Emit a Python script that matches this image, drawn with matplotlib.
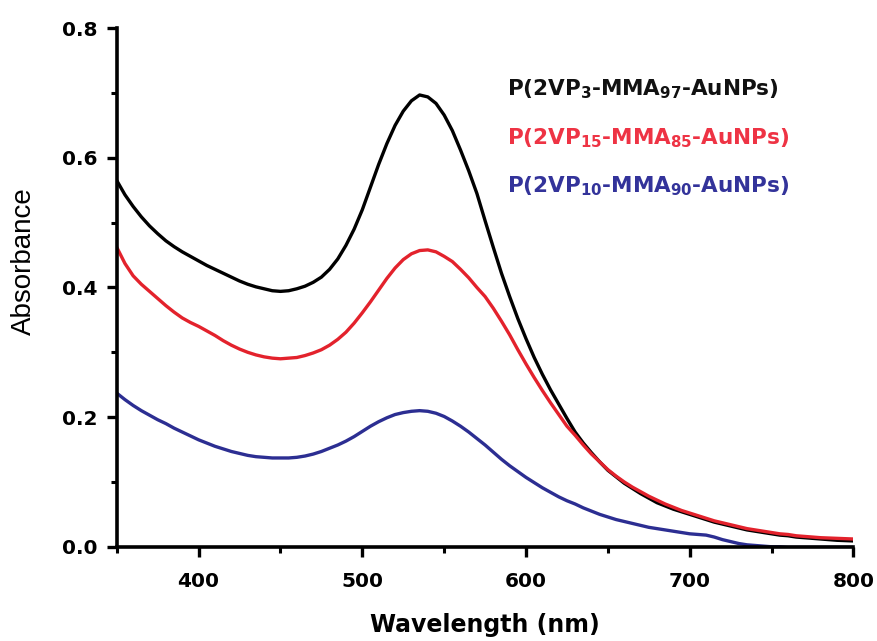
import matplotlib
matplotlib.use("Agg")
import matplotlib.pyplot as plt
from matplotlib.ticker import MultipleLocator, FormatStrFormatter

wavelength = list(range(350, 801, 5))

black_2vp3 = [
    0.565, 0.543, 0.525, 0.509, 0.495, 0.483, 0.472, 0.463, 0.455, 0.448,
    0.441, 0.434, 0.428, 0.422, 0.416, 0.410, 0.405, 0.401, 0.398, 0.395,
    0.394, 0.395, 0.398, 0.402, 0.408, 0.416, 0.428, 0.444, 0.465, 0.490,
    0.520, 0.555, 0.590, 0.622, 0.650, 0.672, 0.688, 0.697, 0.694, 0.684,
    0.666, 0.642, 0.612, 0.580, 0.545, 0.503, 0.462, 0.422, 0.386, 0.352,
    0.321, 0.292, 0.266, 0.242, 0.220, 0.198, 0.177, 0.160, 0.145, 0.131,
    0.118, 0.108, 0.098, 0.090, 0.082, 0.075, 0.068, 0.063, 0.058, 0.054,
    0.050, 0.046, 0.042, 0.038, 0.035, 0.032, 0.029, 0.026, 0.024, 0.022,
    0.020, 0.018, 0.017, 0.015, 0.014, 0.013, 0.012, 0.011, 0.010, 0.0095,
    0.009]

red_2vp15 = [
    0.462, 0.437, 0.418, 0.405, 0.394, 0.383, 0.372, 0.362, 0.353, 0.346,
    0.340, 0.333, 0.326, 0.318, 0.311, 0.305, 0.300, 0.296, 0.293, 0.291,
    0.290, 0.291, 0.292, 0.295, 0.299, 0.304, 0.311, 0.320, 0.331, 0.345,
    0.361, 0.378, 0.396, 0.414, 0.430, 0.443, 0.452, 0.457, 0.458, 0.455,
    0.448, 0.440, 0.428, 0.415, 0.400, 0.386, 0.368, 0.348, 0.327, 0.304,
    0.282, 0.261, 0.241, 0.222, 0.204, 0.186, 0.172, 0.157, 0.143, 0.131,
    0.119, 0.109, 0.100, 0.092, 0.085, 0.078, 0.072, 0.066, 0.061, 0.056,
    0.052, 0.048, 0.044, 0.040, 0.037, 0.034, 0.031, 0.028, 0.026, 0.024,
    0.022, 0.020, 0.019, 0.017, 0.016, 0.015, 0.014, 0.0135, 0.013, 0.0125,
    0.012]

blue_2vp10 = [
    0.237, 0.227, 0.218, 0.210, 0.203, 0.196, 0.190, 0.183, 0.177, 0.171,
    0.165, 0.160, 0.155, 0.151, 0.147, 0.144, 0.141, 0.139, 0.138, 0.137,
    0.137, 0.137, 0.138, 0.140, 0.143, 0.147, 0.152, 0.157, 0.163, 0.170,
    0.178, 0.186, 0.193, 0.199, 0.204, 0.207, 0.209, 0.210, 0.209, 0.206,
    0.201, 0.194, 0.186, 0.177, 0.167, 0.157, 0.146, 0.135, 0.125, 0.116,
    0.107, 0.099, 0.091, 0.084, 0.077, 0.071, 0.066, 0.060, 0.055, 0.050,
    0.046, 0.042, 0.039, 0.036, 0.033, 0.030, 0.028, 0.026, 0.024, 0.022,
    0.020, 0.019, 0.018, 0.015, 0.011, 0.008, 0.005, 0.003, 0.002, 0.001,
    0.000, 0.000, -0.001, -0.001, -0.001, -0.001, -0.001, -0.001, -0.001, -0.001,
    -0.001]

labels = ["P(2VP$_{3}$-MMA$_{97}$-AuNPs)",
          "P(2VP$_{15}$-MMA$_{85}$-AuNPs)",
          "P(2VP$_{10}$-MMA$_{90}$-AuNPs)"]
line_colors = ["#000000", "#e3222c", "#2c2e92"]
text_colors = ["#111111", "#ee3344", "#33339a"]

plt.rcParams["font.family"] = ["Liberation Sans", "DejaVu Sans"]
plt.rcParams["mathtext.fontset"] = "custom"
plt.rcParams["mathtext.rm"] = "DejaVu Sans:bold"
plt.rcParams["mathtext.default"] = "rm"

fig = plt.figure(figsize=(8.78, 6.41), dpi=100)
ax = fig.add_axes([0.133, 0.147, 0.839, 0.809])

series = [black_2vp3, red_2vp15, blue_2vp10]
for ys, c in zip(series, line_colors):
    ax.plot(wavelength, ys, color=c, lw=2.4, solid_capstyle="round",
            solid_joinstyle="round")

ax.set_xlim(350, 800)
ax.set_ylim(0, 0.8)
ax.xaxis.set_major_locator(MultipleLocator(100))
ax.xaxis.set_minor_locator(MultipleLocator(50))
ax.yaxis.set_major_locator(MultipleLocator(0.2))
ax.yaxis.set_minor_locator(MultipleLocator(0.1))
ax.yaxis.set_major_formatter(FormatStrFormatter("%.1f"))

for s in ["top", "right"]:
    ax.spines[s].set_visible(False)
for s in ["left", "bottom"]:
    ax.spines[s].set_linewidth(2.6)

ax.tick_params(which="major", direction="out", length=7, width=2.4, labelsize=14.5, pad=7)
ax.tick_params(axis="x", which="major", pad=11)
ax.tick_params(which="minor", direction="out", length=4, width=2.2)
for lab in ax.get_xticklabels() + ax.get_yticklabels():
    lab.set_fontweight("bold")
    lab.set_family("DejaVu Sans")

ax.set_xlabel("Wavelength (nm)", fontsize=17, fontweight="bold",
              family="DejaVu Sans", labelpad=16)
ax.set_ylabel("Absorbance", fontsize=20, labelpad=10)
ax.yaxis.set_label_coords(-0.108, 0.55)

ys_text = [0.871, 0.775, 0.684]
for lab, c, yt in zip(labels, text_colors, ys_text):
    ax.text(0.53, yt, lab, transform=ax.transAxes, color=c, fontsize=15.5,
            fontweight="bold", family="DejaVu Sans", va="baseline", ha="left")

fig.savefig("out.png", dpi=100)
